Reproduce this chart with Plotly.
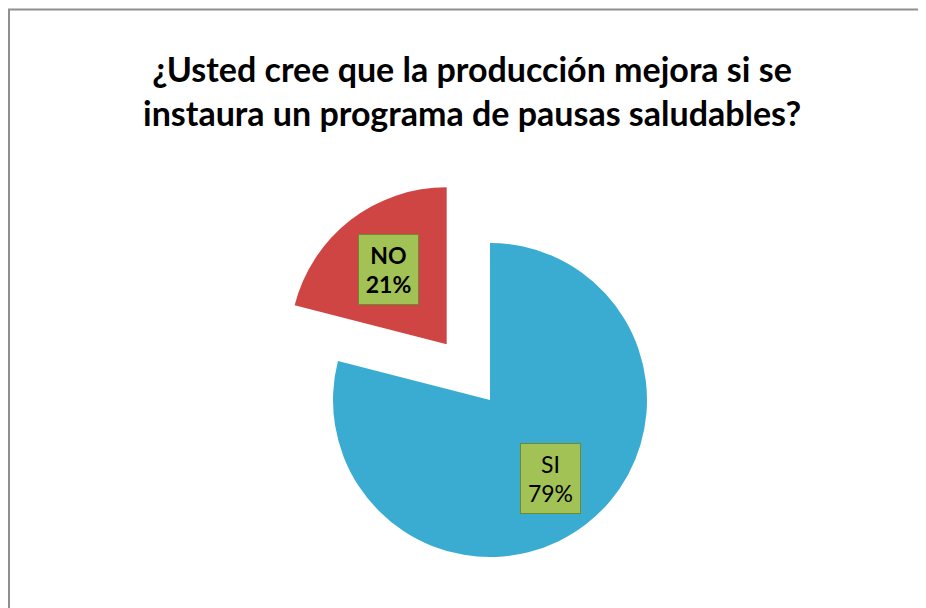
import math
import plotly.graph_objects as go

# ---- data ----
categories = ["SI", "NO"]
percentages = [79, 21]
title_lines = ["¿Usted cree que la producción mejora si se",
               "instaura un programa de pausas saludables?"]

# ---- style / layout ----
W, H = 926, 608
slice_colors = {"SI": "#3aacd1", "NO": "#cf4543"}
pull = {"SI": 0.0, "NO": 0.45}
bold_label = {"SI": False, "NO": True}
label_frac = {"SI": 0.63, "NO": 0.60}
cx, cy, r = 482, 392, 157          # pie centre / radius in px (figure coords)
FONT = "Lato"

fig = go.Figure()
total = sum(percentages)
start = 0.0  # degrees clockwise from 12 o'clock
for cat, val in zip(categories, percentages):
    span = 360.0 * val / total
    mid = math.radians(start + span / 2)
    dx, dy = math.sin(mid), -math.cos(mid)
    ox = cx + pull[cat] * r * dx
    oy = cy + pull[cat] * r * dy
    colors = [slice_colors[c] if c == cat else "rgba(0,0,0,0)" for c in categories]
    fig.add_trace(go.Pie(
        labels=categories, values=percentages, sort=False,
        direction="clockwise", rotation=0,
        marker=dict(colors=colors, line=dict(width=0)),
        textinfo="none", hoverinfo="label+percent", showlegend=False,
        domain=dict(x=[(ox - r) / W, (ox + r) / W],
                    y=[1 - (oy + r) / H, 1 - (oy - r) / H]),
    ))
    lx = ox + label_frac[cat] * r * dx
    ly = oy + label_frac[cat] * r * dy
    txt = f"{cat}<br>{val}%"
    if bold_label[cat]:
        txt = f"<b>{txt}</b>"
    fig.add_annotation(
        x=lx / W, y=1 - ly / H, xref="paper", yref="paper",
        xanchor="center", yanchor="middle", showarrow=False,
        text=txt, width=57, height=67, align="center", valign="middle",
        bgcolor="#a3c255", bordercolor="#6f8a2e", borderwidth=1, borderpad=1,
        font=dict(family=FONT, size=23, color="black"),
    )
    start += span

# title
fig.add_annotation(
    x=464 / W, y=1 - 82 / H, xref="paper", yref="paper",
    xanchor="center", yanchor="middle", showarrow=False,
    text="<br>".join(title_lines), align="center",
    font=dict(family=FONT, size=34, color="black", weight="bold"),
)

# chart frame
fig.add_shape(type="rect", xref="paper", yref="paper",
              x0=1 / W, x1=1.05, y0=-0.05, y1=1 - 1.5 / H,
              line=dict(color="#8f8f8f", width=2), fillcolor="rgba(0,0,0,0)")

fig.update_layout(
    width=W, height=H, margin=dict(l=0, r=0, t=0, b=0),
    paper_bgcolor="white", plot_bgcolor="white",
)

fig.write_html("out.html")
